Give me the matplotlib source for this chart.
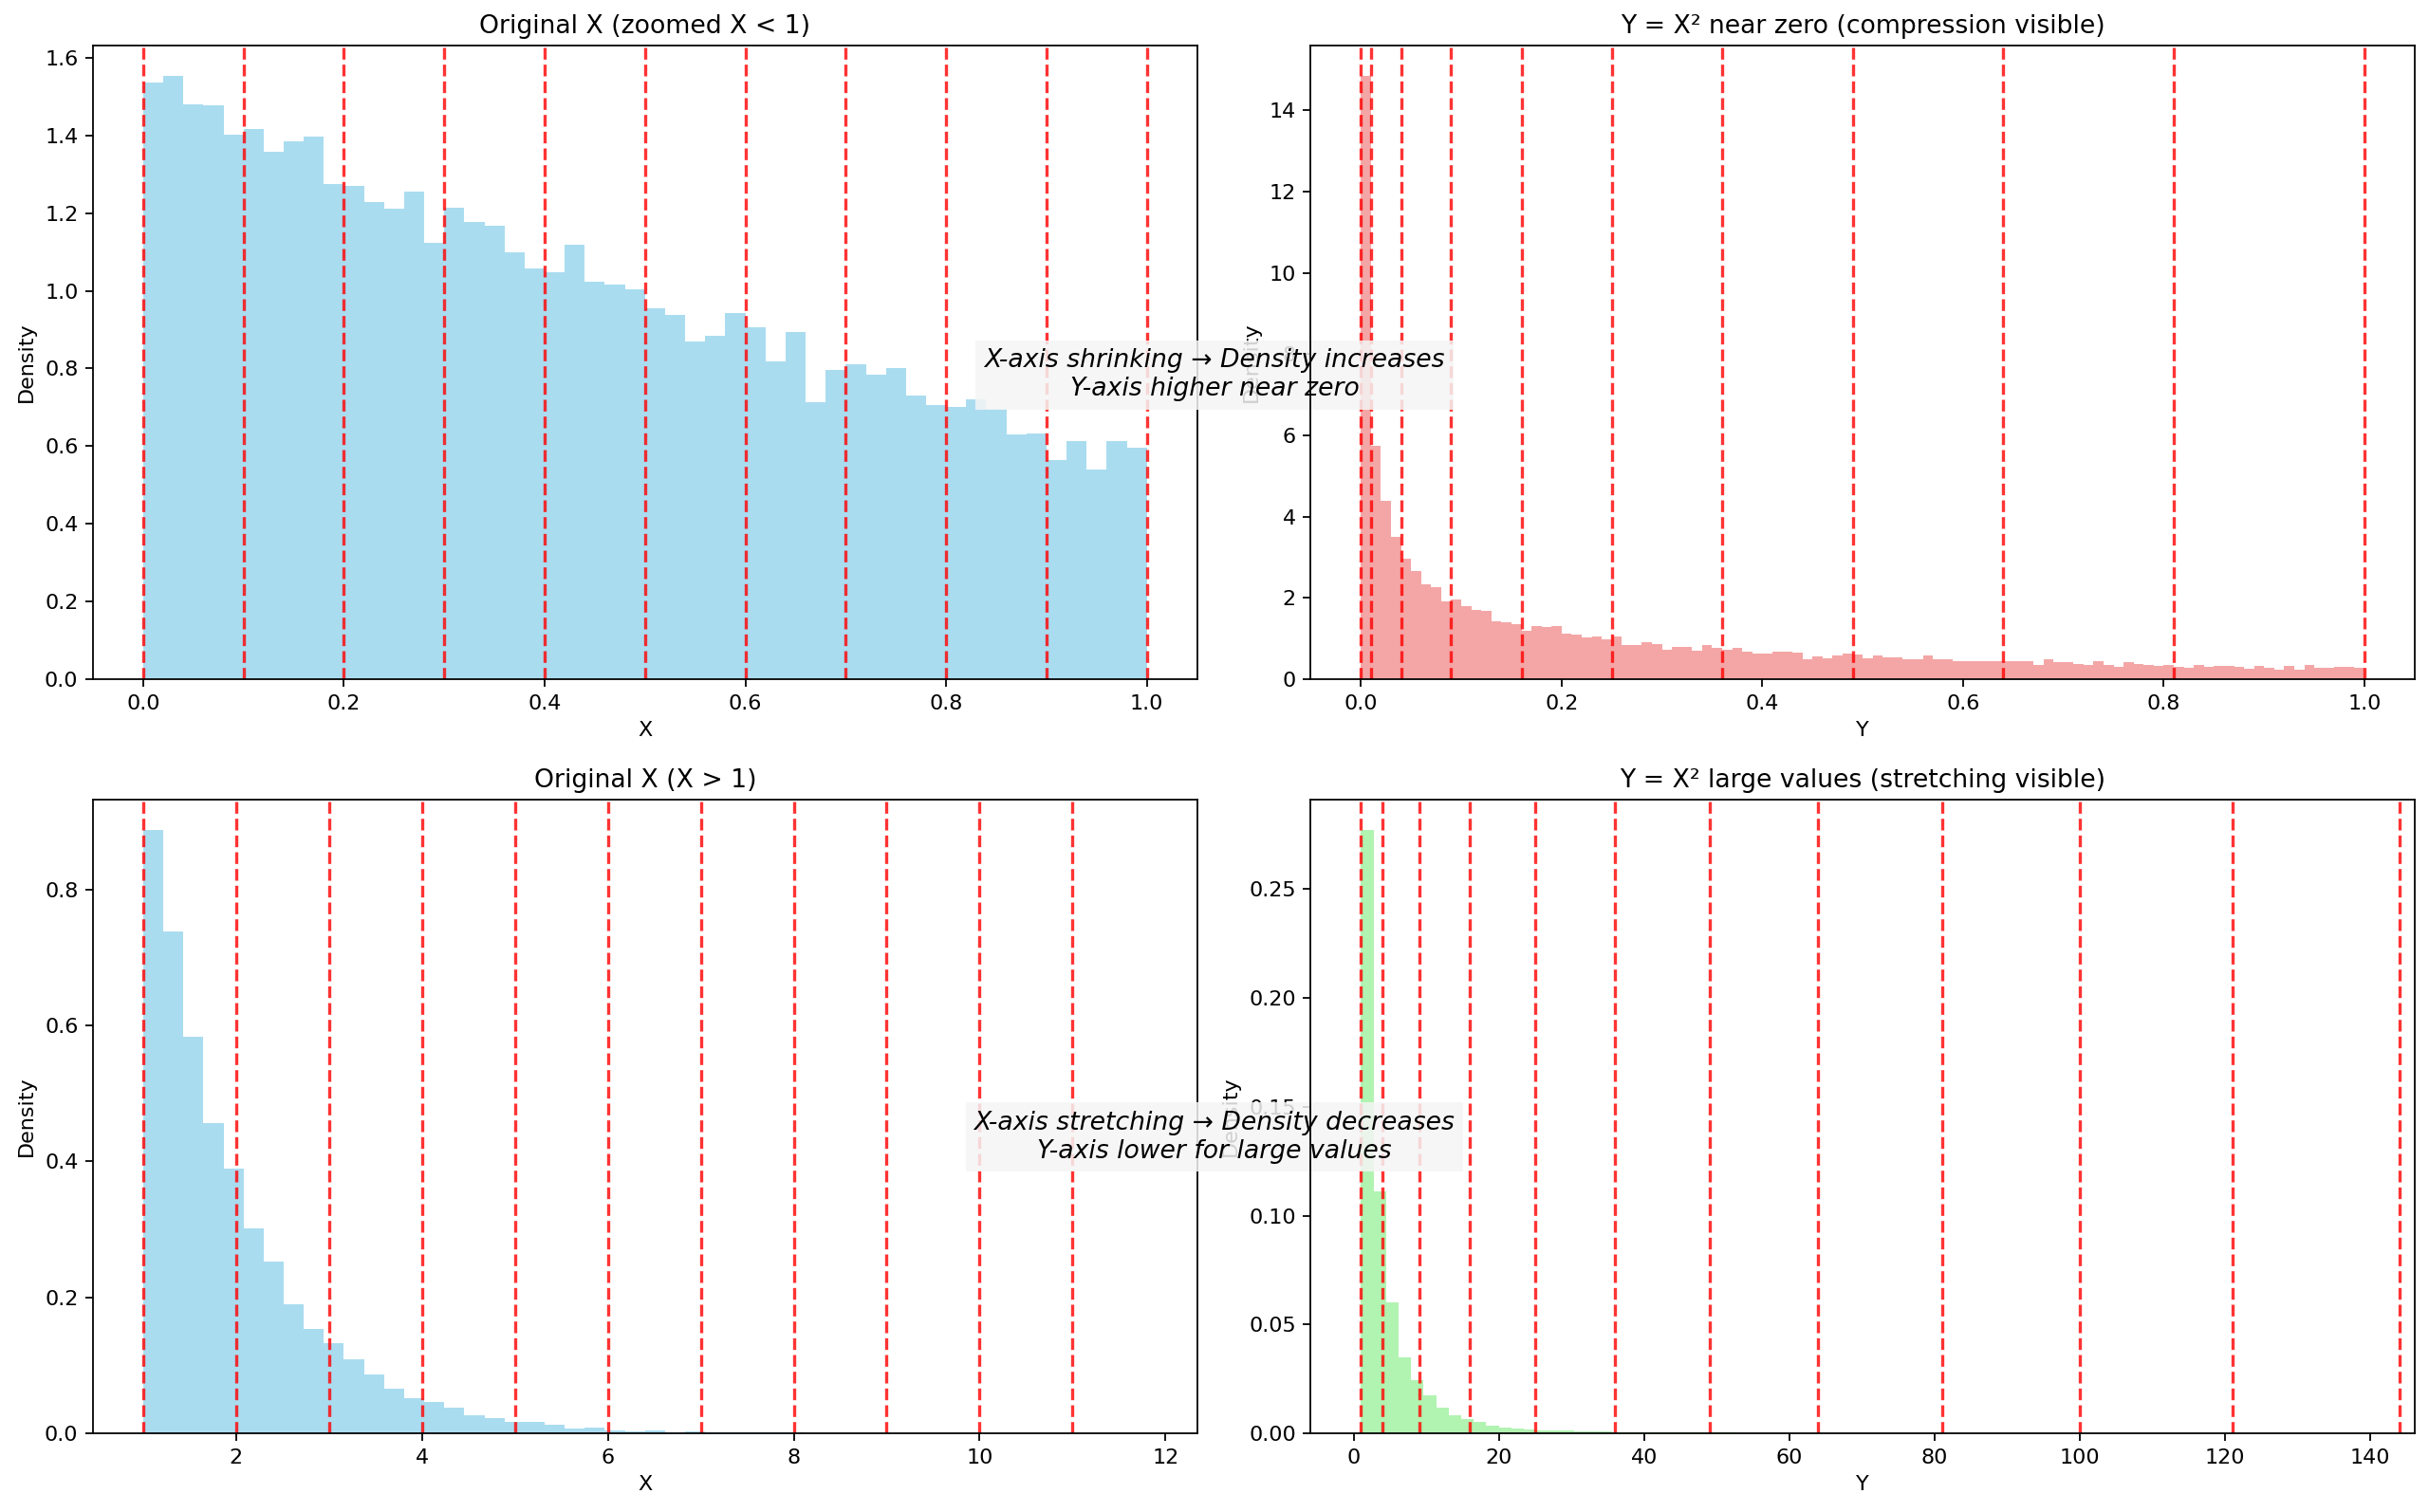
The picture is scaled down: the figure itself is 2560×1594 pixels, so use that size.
import numpy as np
from matplotlib import pyplot as plt

# densities, one value per bin
small_x_density = [
    1.536, 1.554, 1.480, 1.478, 1.402, 1.417, 1.358, 1.386, 1.398, 1.274,
    1.271, 1.229, 1.211, 1.256, 1.124, 1.213, 1.178, 1.167, 1.100, 1.057,
    1.048, 1.118, 1.023, 1.015, 1.005, 0.954, 0.937, 0.869, 0.885, 0.942,
    0.906, 0.818, 0.895, 0.714, 0.797, 0.812, 0.783, 0.801, 0.730, 0.706,
    0.702, 0.721, 0.697, 0.630, 0.632, 0.565, 0.612, 0.540, 0.612, 0.596,
]
small_y_density = [
    14.85, 5.75, 4.39, 3.49, 2.96, 2.65, 2.34, 2.26, 1.91, 1.97,
    1.80, 1.71, 1.67, 1.43, 1.41, 1.36, 1.18, 1.31, 1.29, 1.30,
    1.13, 1.10, 1.03, 1.05, 0.99, 1.04, 0.83, 0.83, 0.90, 0.86,
    0.73, 0.79, 0.80, 0.71, 0.85, 0.76, 0.72, 0.77, 0.68, 0.64,
    0.64, 0.67, 0.67, 0.65, 0.48, 0.55, 0.52, 0.575, 0.62, 0.605,
    0.51, 0.575, 0.545, 0.54, 0.48, 0.48, 0.59, 0.495, 0.48, 0.45,
    0.455, 0.435, 0.455, 0.455, 0.455, 0.435, 0.44, 0.36, 0.48, 0.415,
    0.425, 0.38, 0.36, 0.455, 0.345, 0.30, 0.41, 0.37, 0.355, 0.325,
    0.36, 0.30, 0.285, 0.36, 0.30, 0.33, 0.33, 0.305, 0.26, 0.33,
    0.275, 0.245, 0.325, 0.245, 0.345, 0.285, 0.285, 0.30, 0.30, 0.27,
]
large_x_density = [
    0.888, 0.738, 0.584, 0.456, 0.390, 0.301, 0.253, 0.190, 0.154, 0.132,
    0.109, 0.086, 0.065, 0.052, 0.046, 0.037, 0.026, 0.022, 0.016, 0.016,
    0.012, 0.007, 0.008, 0.004, 0.003, 0.0035, 0.002, 0.0025, 0.0015, 0.0012,
    0.001, 0.0008, 0.0007, 0.0005, 0.0005, 0.0004, 0.0003, 0.0003, 0.0002, 0.0002,
    0.0002, 0.0001, 0.0001, 0.0001, 0.0001, 0.0, 0.0001, 0.0, 0.0, 0.0001,
]
large_y_density = [
    0.2773, 0.1112, 0.0601, 0.0349, 0.0243, 0.0175, 0.0119, 0.0083, 0.0064, 0.0050,
    0.0035, 0.0028, 0.0022, 0.0017, 0.0015, 0.0013, 0.0011, 0.0010, 0.0008, 0.0007,
    0.0006, 0.0005, 0.0004, 0.0004, 0.0003, 0.0003, 0.0002, 0.0002, 0.0002, 0.0002,
    0.0001, 0.0001, 0.0001, 0.0001, 0.0001, 0.0001, 0.0001, 0.0, 0.0001, 0.0,
    0.0001, 0.0, 0.0, 0.0001, 0.0, 0.0, 0.0, 0.0001, 0.0, 0.0,
    0.0, 0.0, 0.0, 0.0, 0.0001, 0.0, 0.0, 0.0, 0.0, 0.0,
    0.0, 0.0, 0.0, 0.0, 0.0, 0.0, 0.0, 0.0, 0.0, 0.0,
    0.0, 0.0, 0.0, 0.0, 0.0, 0.0, 0.0, 0.0, 0.0, 0.0001,
]

# data range covered by each histogram
small_x_range = (0.0, 1.0)
small_y_range = (0.0, 1.0)
large_x_range = (1.0, 11.80)
large_y_range = (1.0, 139.2)

# boundaries marked with red dashed lines
small_x_marks = [0.0, 0.1, 0.2, 0.3, 0.4, 0.5, 0.6, 0.7, 0.8, 0.9, 1.0]
small_y_marks = [0.0, 0.01, 0.04, 0.09, 0.16, 0.25, 0.36, 0.49, 0.64, 0.81, 1.0]
large_x_marks = [1, 2, 3, 4, 5, 6, 7, 8, 9, 10, 11]
large_y_marks = [1, 4, 9, 16, 25, 36, 49, 64, 81, 100, 121, 144]

titles = [
    'Original X (zoomed X < 1)',
    'Y = X\u00b2 near zero (compression visible)',
    'Original X (X > 1)',
    'Y = X\u00b2 large values (stretching visible)',
]
notes = [
    'X-axis shrinking \u2192 Density increases\nY-axis higher near zero',
    'X-axis stretching \u2192 Density decreases\nY-axis lower for large values',
]


def draw_histogram(ax, density, value_range, color, marks, title, xlabel):
    """
    Draws one density histogram with the boundary lines on top.
    :param ax: matplotlib axes to draw on
    :param density: list, bar heights
    :param value_range: tuple, lowest and highest bin edge
    :param color: str, bar colour
    :param marks: list, x positions of the dashed lines
    :param title: str, axes title
    :param xlabel: str, x axis label
    """
    edges = np.linspace(value_range[0], value_range[1], len(density) + 1)
    ax.bar(edges[:-1], density, width=np.diff(edges), align='edge', color=color, alpha=0.7)
    limits = ax.get_xlim()
    for m in marks:
        ax.axvline(m, color='red', linestyle='--', alpha=0.8, linewidth=1.5)
    ax.set_xlim(limits)
    ax.set_title(title)
    ax.set_xlabel(xlabel)
    ax.set_ylabel('Density')


def main():
    fig, axes = plt.subplots(2, 2, figsize=(16, 9.9625), dpi=160)
    plt.subplots_adjust(left=0.0383, right=0.9941, bottom=0.0521, top=0.9699, wspace=0.103, hspace=0.19)

    draw_histogram(axes[0, 0], small_x_density, small_x_range, 'skyblue', small_x_marks, titles[0], 'X')
    draw_histogram(axes[0, 1], small_y_density, small_y_range, 'lightcoral', small_y_marks, titles[1], 'Y')
    draw_histogram(axes[1, 0], large_x_density, large_x_range, 'skyblue', large_x_marks, titles[2], 'X')
    draw_histogram(axes[1, 1], large_y_density, large_y_range, 'lightgreen', large_y_marks, titles[3], 'Y')

    box = dict(facecolor='whitesmoke', alpha=0.85, edgecolor='none')
    for ax, note, y in [(axes[0, 1], notes[0], 0.752), (axes[1, 1], notes[1], 0.248)]:
        ax.text(0.5, y, note, transform=fig.transFigure, ha='center', va='center', fontsize=12,
                fontstyle='italic', bbox=box, zorder=2.4, clip_on=False)

    fig.savefig('out.png', dpi=160)


if __name__ == '__main__':
    main()
